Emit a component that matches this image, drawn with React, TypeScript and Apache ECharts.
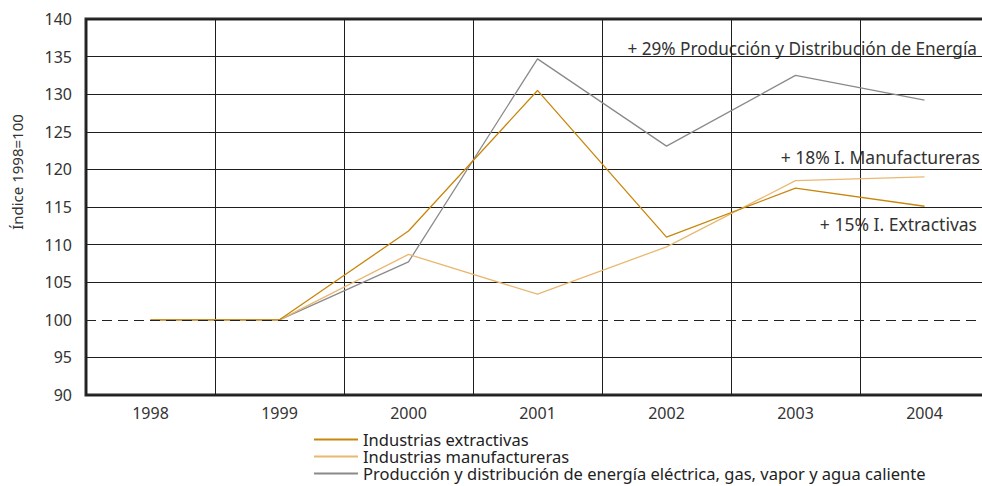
import React, { useEffect, useRef } from "react";
import * as echarts from "echarts";

const years = ["1998", "1999", "2000", "2001", "2002", "2003", "2004"];
const extractivas = [100, 100, 111.8, 130.5, 111.0, 117.5, 115.1];
const manufactureras = [100, 100, 108.7, 103.4, 109.7, 118.5, 119.0];
const energia = [100, 100, 107.7, 134.7, 123.1, 132.5, 129.2];
const seriesNames = [
  "Industrias extractivas",
  "Industrias manufactureras",
  "Producción y distribución de energía eléctrica, gas, vapor y agua caliente",
];
const annotations = [
  "+ 29% Producción y Distribución de Energía",
  "+ 18% I. Manufactureras",
  "+ 15% I. Extractivas",
];
const yName = "Índice 1998=100";

const FONT = "'Noto Sans', 'Open Sans', sans-serif";
const GRID_C = "#1e1e1e";

export default function App() {
  const ref = useRef<HTMLDivElement>(null);
  useEffect(() => {
    if (!ref.current) return;
    const chart = echarts.init(ref.current, null, { renderer: "svg" });
    const splitColors = [GRID_C, GRID_C, "rgba(0,0,0,0)", GRID_C, GRID_C, GRID_C, GRID_C, GRID_C, GRID_C, GRID_C, GRID_C];
    chart.setOption({
      animation: false,
      backgroundColor: "#ffffff",
      textStyle: { fontFamily: FONT },
      grid: {
        left: 86,
        top: 19,
        bottom: 91,
        width: 903,
        containLabel: false,
        outerBoundsMode: "none",
        show: true,
        borderColor: "#2a2a2a",
        borderWidth: 3,
        backgroundColor: "transparent",
      },
      xAxis: {
        type: "category",
        data: years,
        boundaryGap: true,
        axisLine: { show: false },
        axisTick: { show: false },
        axisLabel: { color: "#333", fontSize: 16, margin: 10, fontFamily: FONT },
        splitLine: { show: true, lineStyle: { color: GRID_C, width: 1 } },
      },
      yAxis: {
        type: "value",
        min: 90,
        max: 140,
        interval: 5,
        axisLine: { show: false },
        axisTick: { show: false },
        axisLabel: { color: "#333", fontSize: 16, margin: 14, fontFamily: FONT },
        splitLine: { show: true, lineStyle: { color: splitColors, width: 1 } },
      },
      legend: {
        orient: "vertical",
        left: 314,
        top: 431,
        itemWidth: 44,
        itemHeight: 2,
        itemGap: 0,
        icon: "rect",
        padding: 0,
        textStyle: { color: "#222", fontSize: 16.5, lineHeight: 16.5, fontFamily: FONT },
        data: seriesNames,
      },
      graphic: [
        {
          type: "text",
          x: 17,
          y: 172,
          rotation: Math.PI / 2,
          style: {
            text: yName,
            fill: "#333",
            font: `15px ${FONT}`,
            textAlign: "center",
            textVerticalAlign: "middle",
          },
        },
        {
          type: "text",
          x: 977,
          y: 48,
          style: { text: annotations[0], fill: "#333", font: `17.2px ${FONT}`, textAlign: "right", textVerticalAlign: "middle" },
        },
        {
          type: "text",
          x: 980,
          y: 157,
          style: { text: annotations[1], fill: "#333", font: `17.5px ${FONT}`, textAlign: "right", textVerticalAlign: "middle" },
        },
        {
          type: "text",
          x: 977,
          y: 224,
          style: { text: annotations[2], fill: "#333", font: `17.5px ${FONT}`, textAlign: "right", textVerticalAlign: "middle" },
        },
      ],
      series: [
        {
          name: seriesNames[0],
          type: "line",
          data: extractivas,
          symbol: "none",
          lineStyle: { color: "#c8860c", width: 1.3 },
          itemStyle: { color: "#c8860c" },
          z: 4,
          markLine: {
            silent: true,
            symbol: "none",
            label: { show: false },
            lineStyle: { color: "#222", width: 1, type: [10, 6] },
            data: [{ yAxis: 100 }],
          },
        },
        {
          name: seriesNames[1],
          type: "line",
          data: manufactureras,
          symbol: "none",
          lineStyle: { color: "#e8b871", width: 1.3 },
          itemStyle: { color: "#e8b871" },
          z: 3,
        },
        {
          name: seriesNames[2],
          type: "line",
          data: energia,
          symbol: "none",
          lineStyle: { color: "#8a8a8a", width: 1.3 },
          itemStyle: { color: "#8a8a8a" },
          z: 2,
        },
      ],
    });
    return () => chart.dispose();
  }, []);
  return (
    <div
      ref={ref}
      style={{ position: "absolute", left: 0, top: 0, width: 982, height: 486 }}
    />
  );
}
